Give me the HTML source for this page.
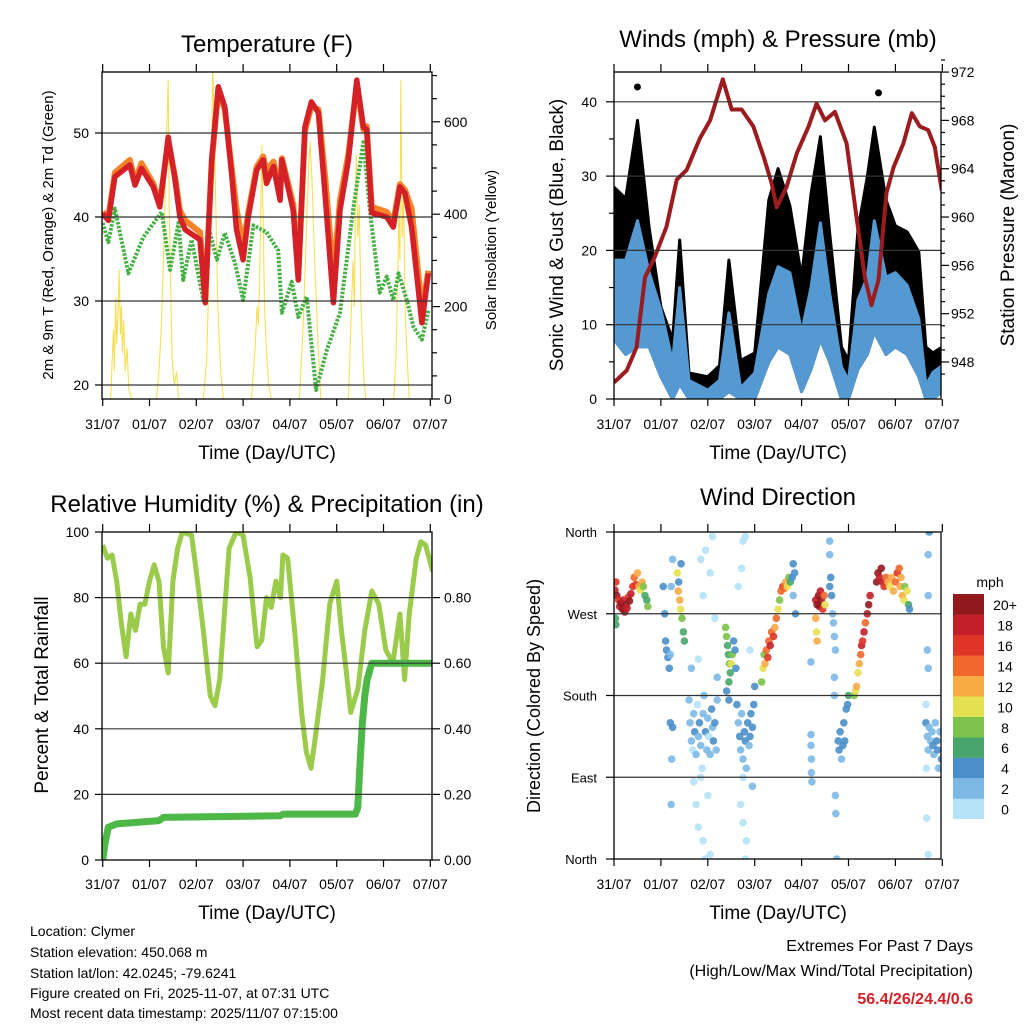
<!DOCTYPE html>
<html><head><meta charset="utf-8"><style>
html,body{margin:0;padding:0;background:#fff;}
svg{display:block;font-family:"Liberation Sans",Arial,sans-serif;}
</style></head><body>
<svg id="chart" width="1024" height="1024" viewBox="0 0 1024 1024" xmlns="http://www.w3.org/2000/svg">
<defs>
<clipPath id="c1"><rect x="102" y="72" width="330" height="327"/></clipPath>
<clipPath id="c2"><rect x="614" y="72" width="327" height="327"/></clipPath>
<clipPath id="c3"><rect x="102" y="532" width="330" height="328"/></clipPath>
<clipPath id="c4"><rect x="614" y="532" width="327" height="327"/></clipPath>
</defs>
<rect width="1024" height="1024" fill="#fff"/>
<text x="267" y="52" font-size="24" text-anchor="middle">Temperature (F)</text>
<text x="778" y="47" font-size="24" text-anchor="middle">Winds (mph) &amp; Pressure (mb)</text>
<text x="267" y="512" font-size="24" text-anchor="middle">Relative Humidity (%) &amp; Precipitation (in)</text>
<text x="778" y="505" font-size="24" text-anchor="middle">Wind Direction</text>
<text transform="translate(53,235) rotate(-90)" font-size="15" text-anchor="middle">2m &amp; 9m T (Red, Orange) &amp; 2m Td (Green)</text>
<text transform="translate(496,250) rotate(-90)" font-size="15" text-anchor="middle">Solar Insolation (Yellow)</text>
<text transform="translate(563,235) rotate(-90)" font-size="19" text-anchor="middle">Sonic Wind &amp; Gust (Blue, Black)</text>
<text transform="translate(1014,235) rotate(-90)" font-size="19" text-anchor="middle">Station Pressure (Maroon)</text>
<text transform="translate(48,695) rotate(-90)" font-size="19" text-anchor="middle">Percent &amp; Total Rainfall</text>
<text transform="translate(540,696) rotate(-90)" font-size="18" text-anchor="middle">Direction (Colored By Speed)</text>
<text x="267" y="459" font-size="19" text-anchor="middle">Time (Day/UTC)</text>
<text x="778" y="459" font-size="19" text-anchor="middle">Time (Day/UTC)</text>
<text x="267" y="919" font-size="19" text-anchor="middle">Time (Day/UTC)</text>
<text x="778" y="919" font-size="19" text-anchor="middle">Time (Day/UTC)</text>
<g font-size="14">
<text x="30" y="936">Location: Clymer</text>
<text x="30" y="957">Station elevation: 450.068 m</text>
<text x="30" y="978">Station lat/lon: 42.0245; -79.6241</text>
<text x="30" y="998">Figure created on Fri, 2025-11-07, at 07:31 UTC</text>
<text x="30" y="1018">Most recent data timestamp: 2025/11/07 07:15:00</text>
</g>
<g font-size="16" text-anchor="end">
<text x="973" y="951">Extremes For Past 7 Days</text>
<text x="973" y="976">(High/Low/Max Wind/Total Precipitation)</text>
<text x="973" y="1004" fill="#d42127" font-weight="bold">56.4/26/24.4/0.6</text>
</g>
<text x="990" y="587" font-size="14" text-anchor="middle">mph</text>
</svg>
<script>
// ---- Temperature panel data ----
const tempDays=[0,0.12,0.26,0.58,0.69,0.83,1.08,1.22,1.40,1.54,1.65,1.76,2.08,2.19,2.33,2.47,2.61,2.76,2.86,3.0,3.11,3.29,3.43,3.5,3.65,3.79,3.83,4.07,4.18,4.32,4.46,4.61,4.75,4.93,5.07,5.25,5.43,5.57,5.64,5.75,6.07,6.21,6.35,6.46,6.6,6.82,6.96];
const tempRed=[40.4,39.6,44.8,46.2,43.8,45.8,43.6,41.2,49.5,44.6,40,38.5,37.3,29.8,46.8,55.5,53.1,44.8,38.5,34.9,40,45.6,46.8,44,46,42,46.8,40.8,32.5,50.7,53.7,52.4,42.8,29.8,40.8,46.8,56.3,50.7,50.4,40.5,40,38.8,43.6,42.8,38.8,27.4,33.3];
const tempOrange=[40.6,39.9,45.3,46.8,44.3,46.4,44.0,41.6,49.0,45.0,40.8,39.6,38.2,30.4,46.5,55.0,52.8,45.6,41.0,36.5,40.5,46.0,47.2,45.5,46.6,43.0,47.0,41.5,33.0,50.2,53.2,52.8,45.0,33.0,42.0,47.5,55.8,50.4,50.8,41.2,40.6,39.4,43.9,43.2,41.0,29.0,33.6];
const dewDays=[0,0.12,0.26,0.55,0.87,1.26,1.44,1.62,1.72,1.9,2.15,2.26,2.44,2.61,2.83,3.0,3.22,3.5,3.75,3.83,4.04,4.18,4.36,4.56,4.79,5.07,5.36,5.57,5.71,5.92,6.07,6.21,6.32,6.5,6.64,6.82,6.96];
const dewPoint=[39.3,37,41,33.3,37.6,40.6,33.7,39.3,32.5,37.3,30.1,38.8,34.9,38.1,34.5,30.1,39,38.2,36,28.6,32.3,28.1,30.5,19.4,24.2,28.6,41.2,48.9,40.8,31,32.9,30.1,33.3,30.1,26.9,25.4,28.9];
const solarDays=[0.17,0.2,0.23,0.25,0.28,0.3,0.33,0.35,0.38,0.4,0.42,0.45,0.48,0.52,0.56,0.62,1.15,1.2,1.25,1.3,1.33,1.36,1.4,1.42,1.45,1.48,1.5,1.53,1.58,1.62,2.15,2.22,2.28,2.32,2.35,2.38,2.42,2.46,2.52,2.58,3.18,3.22,3.26,3.3,3.33,3.36,3.4,3.43,3.46,3.5,3.55,3.6,4.2,4.28,4.35,4.4,4.43,4.47,4.53,4.6,4.66,5.25,5.3,5.35,5.38,5.4,5.42,5.45,5.48,5.52,5.58,5.62,6.22,6.27,6.3,6.33,6.35,6.37,6.4,6.43,6.46,6.5,6.55];
const solar=[0,80,150,60,220,120,190,280,140,200,100,170,60,110,20,0,0,60,150,300,420,550,690,420,250,100,60,30,60,0,0,80,300,500,720,600,400,200,60,0,0,60,120,200,160,290,550,380,200,100,30,0,0,150,350,500,556,480,300,120,0,0,150,300,200,450,530,350,420,200,50,0,0,100,250,400,300,690,350,450,200,100,0];
const tempTicks=[20,30,40,50];
const solarTicks=[0,200,400,600];
const dayLabels=["31/07","01/07","02/07","03/07","04/07","05/07","06/07","07/07"];
// ---- Wind panel data ----
const windDays=[0,0.25,0.5,0.75,1.0,1.25,1.4,1.6,2.0,2.25,2.45,2.7,3.0,3.3,3.5,3.75,4.0,4.2,4.4,4.6,4.85,5.0,5.2,5.4,5.55,5.8,6.0,6.25,6.5,6.65,6.8,7.0];
const windHi=[18.7,18.7,24,17,12,5,15,2.5,1.2,2.5,11.6,1.5,3.5,14.2,17.8,17,9,15,23.7,14.2,4.3,2.5,13.3,16.4,24,16.4,17,15.3,10.8,1.8,3.6,4.5];
const windLo=[8,6,7,7,3,0,2,0,0,0,1,0,0,5,7,6,1,4,8,5,0,0,4,6,9,6,7,6,3,0,0,1];
const gustHi=[28.5,27,37.5,23,12.4,8,21.4,3.5,3,4.5,18.7,5.2,6.2,26.8,31,26,16.4,27.6,35.3,22.3,7,5.2,22.7,29.9,36.6,26.8,23.3,22.5,19.8,7,6.2,7];
const gustOutDays=[0.5,5.64];
const gustOut=[42,41.2];
const presDays=[0,0.27,0.48,0.66,0.87,1.12,1.34,1.55,1.83,2.05,2.32,2.51,2.72,2.97,3.19,3.36,3.47,3.68,3.9,4.15,4.32,4.5,4.71,4.96,5.17,5.35,5.49,5.64,5.81,5.96,6.17,6.35,6.52,6.7,6.84,6.99];
const pressure=[946.3,947.3,949.2,955.0,956.7,959.2,963.1,963.9,966.5,968.0,971.4,968.9,968.9,967.5,965.0,962.8,960.8,962.5,965.3,967.5,969.4,968.0,968.7,966.1,960.0,955.0,952.7,954.8,962.0,964.1,966.1,968.6,967.5,967.2,965.8,962.2];
const windTicks=[0,10,20,30,40];
const presTicks=[948,952,956,960,964,968,972];
// ---- Humidity panel data ----
const rhDays=[0,0.1,0.2,0.3,0.4,0.5,0.6,0.7,0.8,0.9,1.0,1.1,1.2,1.3,1.4,1.5,1.6,1.7,1.9,2.0,2.15,2.3,2.4,2.5,2.6,2.7,2.85,3.0,3.15,3.3,3.4,3.5,3.6,3.7,3.8,3.85,3.95,4.1,4.25,4.35,4.45,4.55,4.7,4.85,5.0,5.1,5.2,5.3,5.45,5.6,5.75,5.9,6.05,6.2,6.35,6.45,6.55,6.7,6.8,6.9,7.05];
const rh=[96,92,93,85,72,62,75,70,78,78,85,90,85,65,57,85,95,100,99,88,70,50,47,55,75,95,100,99,86,65,67,80,77,85,80,93,92,70,45,33,28,38,55,78,85,70,58,45,52,70,82,78,64,60,75,55,75,92,97,96,88];
const precipDays=[0,0.05,0.12,0.3,1.2,1.3,3.8,3.85,5.4,5.45,5.5,5.55,5.6,5.65,5.75,7.05];
const precip=[0,0.05,0.10,0.11,0.12,0.13,0.135,0.14,0.14,0.16,0.3,0.42,0.5,0.55,0.6,0.6];
const rhTicks=[0,20,40,60,80,100];
const precipTicks=["0.00","0.20","0.40","0.60","0.80"];
// ---- Wind direction data ----
const dirDays=[0.02,0.04,0.06,0.1,0.12,0.15,0.18,0.2,0.23,0.26,0.28,0.3,0.33,0.36,0.4,0.43,0.46,0.5,0.53,0.56,0.6,0.63,0.66,0.7,0.72,0.03,0.04,
1.05,1.08,1.1,1.12,1.15,1.18,1.2,1.22,1.25,1.2,1.25,1.22,1.23,
1.35,1.37,1.4,1.42,1.45,1.48,1.5,1.38,1.43,
1.6,1.62,1.65,1.68,1.7,1.72,1.75,1.78,1.8,1.82,1.85,1.88,1.9,1.92,1.95,1.98,2.0,2.02,2.05,2.08,2.1,2.12,2.15,2.18,2.2,1.7,1.75,1.8,1.85,1.9,2.0,2.05,1.95,2.1,1.85,1.95,2.05,1.9,1.8,1.65,2.15,2.2,
2.38,2.4,2.42,2.44,2.46,2.48,2.5,2.52,2.55,2.58,2.6,2.45,2.4,2.45,
2.62,2.65,2.68,2.7,2.72,2.75,2.78,2.8,2.82,2.85,2.88,2.9,2.92,2.95,2.98,3.0,2.7,2.75,2.8,2.82,2.75,2.72,2.75,2.8,2.65,2.9,2.95,
3.15,3.18,3.2,3.22,3.25,3.28,3.3,3.33,3.36,3.4,3.43,3.46,3.5,3.53,3.56,3.6,3.63,3.66,3.7,3.73,3.76,3.8,3.82,3.85,3.82,3.87,
4.2,4.2,4.21,4.21,4.22,4.2,
4.3,4.33,4.36,4.38,4.4,4.42,4.45,4.48,4.5,4.3,4.32,4.33,
4.6,4.62,4.64,4.66,4.68,4.7,4.72,4.6,4.6,4.7,4.7,4.72,4.73,4.75,
4.78,4.8,4.82,4.85,4.88,4.9,4.92,4.95,4.98,5.0,
5.12,5.15,5.17,5.2,5.23,5.26,5.28,5.3,5.33,5.36,5.4,5.43,5.46,
5.6,5.63,5.66,5.7,5.73,5.76,5.8,5.84,5.88,5.92,5.96,6.0,6.04,6.08,6.1,6.12,6.15,6.18,6.2,6.25,6.28,6.3,
6.65,6.68,6.7,6.72,6.75,6.78,6.8,6.82,6.85,6.88,6.9,6.92,6.95,6.98,6.65,6.66,6.67,6.7,6.72,6.7,6.7,6.68,6.7];
const dirDeg=[296,305,290,285,278,282,275,285,272,280,276,288,284,292,300,310,302,315,300,296,305,300,290,285,278,265,258,
300,270,240,230,222,210,225,300,330,150,145,60,110,
315,295,285,275,265,250,240,305,325,
175,150,130,120,160,140,115,170,135,150,125,100,160,180,140,120,155,135,115,165,145,130,150,120,175,85,60,35,90,20,70,5,0,355,330,340,315,290,220,210,265,200,
255,245,235,225,215,205,215,225,240,230,210,195,185,175,
170,150,135,120,160,110,140,130,100,150,125,135,160,145,170,190,60,40,0,20,90,320,350,355,300,230,80,
195,210,225,215,230,222,240,235,250,245,255,265,275,285,295,300,298,305,300,310,305,310,325,315,290,270,
137,125,110,95,85,217,
285,280,290,278,295,285,275,290,280,265,250,240,
300,310,290,270,260,245,230,350,335,200,180,70,50,0,
130,120,140,110,125,150,130,165,170,180,
180,185,190,205,215,225,235,240,250,260,270,280,290,
305,315,310,320,305,300,310,305,300,310,295,305,315,320,300,310,290,285,300,295,280,275,
150,135,120,145,130,140,125,115,150,130,120,100,140,110,170,100,45,5,360,335,290,230,210];
const dirSpeed=[18,16,20,16,18,20,20,18,20,20,18,16,20,18,16,14,16,12,12,10,12,8,6,6,8,6,6,
4,4,4,4,4,4,2,2,2,4,4,2,2,
10,12,12,10,8,6,6,4,4,
2,2,2,0,2,4,2,0,2,4,2,0,2,2,4,2,2,0,2,4,2,4,4,2,2,0,0,0,0,0,0,0,0,0,0,0,0,0,0,2,0,2,
8,8,6,6,8,6,10,8,4,4,4,6,4,4,
4,2,4,2,2,2,4,4,2,4,2,4,4,4,4,4,0,0,0,0,0,0,0,0,0,0,2,
8,10,8,12,14,16,14,18,14,16,12,14,10,8,14,16,14,12,10,8,6,4,4,4,2,4,
2,2,2,2,2,2,
18,20,20,20,18,20,16,14,10,12,10,12,
4,4,4,2,2,2,2,2,2,2,2,2,2,2,
4,4,4,2,4,4,4,4,4,6,
8,10,12,10,12,14,18,16,18,14,18,20,18,
20,20,18,20,18,16,14,12,10,12,12,14,16,14,12,12,12,10,8,10,6,4,
4,2,2,2,2,2,4,2,2,4,4,2,2,4,0,0,0,0,4,2,2,2,2];
const speedLabels=["0","2","4","6","8","10","12","14","16","18","20+"];
const dirLabels=["North","East","South","West","North"];

// ---- helpers ----
const NS='http://www.w3.org/2000/svg';
const svg=document.getElementById('chart');
function mk(tag,attrs,parent){const e=document.createElementNS(NS,tag);for(const k in attrs)e.setAttribute(k,attrs[k]);(parent||svg).appendChild(e);return e;}
function linePath(xs,ys,fx,fy){let d='';for(let i=0;i<xs.length;i++){d+=(i?'L':'M')+fx(xs[i]).toFixed(1)+','+fy(ys[i]).toFixed(1);}return d;}
function bandPath(xs,hi,lo,fx,fy){let d='';for(let i=0;i<xs.length;i++)d+=(i?'L':'M')+fx(xs[i]).toFixed(1)+','+fy(hi[i]).toFixed(1);for(let i=xs.length-1;i>=0;i--)d+='L'+fx(xs[i]).toFixed(1)+','+fy(lo[i]).toFixed(1);return d+'Z';}

// scales
const x1=d=>102.7+46.8*d;
const yT=v=>385-(v-20)*8.4;
const yS=v=>399-v*0.462;
const x2=d=>614+46.9*d;
const yW=v=>399-v*7.43;
const yP=p=>362-(p-948)*12.08;
const yR=v=>860-v*3.28;
const yPr=v=>860-v*328;
const yD=v=>859-v*0.9083;
const colors=['#b5e2f7','#7db9e4','#4a8fc9','#48a66c','#7cc24b','#e5e052','#f8aa45','#f0682c','#e03428','#c21f2a','#921a1e'];

function frame(x0,y0,x1_,y1_,name){
  const r=mk('rect',{x:x0,y:y0,width:x1_-x0,height:y1_-y0,fill:'none',stroke:'#000','stroke-width':1.3});
  
  
}
function grid(y,xa,xb){
  const l=mk('line',{x1:xa,x2:xb,y1:y,y2:y,stroke:'#333','stroke-width':1.2});
  
  
}
function tick(xa,ya,xb,yb){
  const l=mk('line',{x1:xa,y1:ya,x2:xb,y2:yb,stroke:'#000','stroke-width':1.2});
  
  
}
function label(x,y,s,anchor,size,name){
  const t=mk('text',{x:x,y:y,'font-size':size||14,'text-anchor':anchor||'middle'});
  t.textContent=s;
  
  
  return t;
}
function xAxis(fx,top,bot,ly){
  for(let i=0;i<dayLabels.length;i++){
    const x=fx(i);
    tick(x,bot,x,bot+7);tick(x,top,x,top-8);
    label(x,ly,dayLabels[i],'middle',14,'x-tick-label');
  }
}

// ---- Panel 1 ----
const g1=mk('g',{'clip-path':'url(#c1)'});


tempTicks.forEach(v=>grid(yT(v),102,432));
const sol=mk('path',{d:linePath(solarDays,solar,x1,yS),fill:'none',stroke:'#f7df55','stroke-width':1.1},g1);


const dew=mk('path',{d:linePath(dewDays,dewPoint,x1,yT),fill:'none',stroke:'#45b043','stroke-width':4,'stroke-dasharray':'2.5 1.5','stroke-linejoin':'round'},g1);


const org=mk('path',{d:linePath(tempDays,tempOrange,x1,yT),fill:'none',stroke:'#f5832a','stroke-width':6,'stroke-linejoin':'round'},g1);


const red=mk('path',{d:linePath(tempDays,tempRed,x1,yT),fill:'none',stroke:'#d42127','stroke-width':5.5,'stroke-linejoin':'round'},g1);


frame(102,72,432,399,'temperature-frame');
tempTicks.forEach(v=>{tick(102,yT(v),95,yT(v));label(89,yT(v)+5,String(v),'end',14,'temp-tick-label');});
for(let v=0;v<=700;v+=50){tick(432,yS(v),v%200===0?440:437,yS(v));}
solarTicks.forEach(v=>label(444,yS(v)+5,String(v),'start',14,'solar-tick-label'));
xAxis(x1,72,399,429);

// ---- Panel 2 ----
const g2=mk('g',{'clip-path':'url(#c2)'});


windTicks.forEach(v=>{if(v>0)grid(yW(v),614,941);});
const gb=mk('path',{d:bandPath(windDays,gustHi,windLo,x2,yW),fill:'#000',stroke:'#000','stroke-width':3,'stroke-linejoin':'round'},g2);


const wb=mk('path',{d:bandPath(windDays,windHi,windLo,x2,yW),fill:'#5599d2',stroke:'#5599d2','stroke-width':3,'stroke-linejoin':'round'},g2);


for(let i=0;i<gustOut.length;i++){
  const c=mk('circle',{cx:x2(gustOutDays[i]),cy:yW(gustOut[i]),r:3.5,fill:'#000'},g2);
  
  
}
const pl=mk('path',{d:linePath(presDays,pressure,x2,yP),fill:'none',stroke:'#9b1b1f','stroke-width':4,'stroke-linejoin':'round'},g2);


frame(614,72,941,399,'winds-frame');
for(let v=0;v<=40;v+=5){tick(614,yW(v),v%10===0?606:609,yW(v));}
windTicks.forEach(v=>label(597,yW(v)+5,String(v),'end',14,'wind-tick-label'));
for(let p=947;p<=973;p++){tick(941,yP(p),p%4===0?949:945,yP(p));}
presTicks.forEach(p=>label(951,yP(p)+5,String(p),'start',14,'pressure-tick-label'));
xAxis(x2,72,399,429);

// ---- Panel 3 ----
const g3=mk('g',{'clip-path':'url(#c3)'});


[20,40,60,80].forEach(v=>grid(yR(v),102,432));
const rl=mk('path',{d:linePath(rhDays,rh,x1,yR),fill:'none',stroke:'#9bcb4b','stroke-width':5,'stroke-linejoin':'round'},g3);


const pr=mk('path',{d:linePath(precipDays,precip,x1,yPr),fill:'none',stroke:'#4db848','stroke-width':7,'stroke-linejoin':'round'},g3);


frame(102,532,432,860,'humidity-frame');
rhTicks.forEach(v=>{tick(102,yR(v),95,yR(v));label(89,yR(v)+5,String(v),'end',14,'humidity-tick-label');});
precipTicks.forEach(s=>{const v=parseFloat(s);tick(432,yPr(v),440,yPr(v));label(444,yPr(v)+5,s,'start',14,'precip-tick-label');});
xAxis(x1,532,860,889);

// ---- Panel 4 ----
const g4=mk('g',{'clip-path':'url(#c4)'});


[90,180,270].forEach(v=>grid(yD(v),614,941));
for(let i=0;i<dirDays.length;i++){
  const b=Math.min(10,Math.floor(dirSpeed[i]/2));
  const c=mk('circle',{cx:x2(dirDays[i]).toFixed(1),cy:yD(dirDeg[i]).toFixed(1),r:3.8,fill:colors[b],'fill-opacity':0.9},g4);
  
  
}
frame(614,532,941,859,'direction-frame');
dirLabels.forEach((s,i)=>{const y=yD(i*90);tick(614,y,606,y);label(597,y+5,s,'end',13,'direction-tick-label');});
xAxis(x2,532,859,889);
// colorbar
for(let i=0;i<11;i++){
  const y=819-(i+1)*20.45;
  const r=mk('rect',{x:953,y:y.toFixed(1),width:31,height:20.6,fill:colors[i]});
  
  
  label(1005,y+16,speedLabels[i],'middle',14,'colorbar-label');
}
</script>
</body></html>
